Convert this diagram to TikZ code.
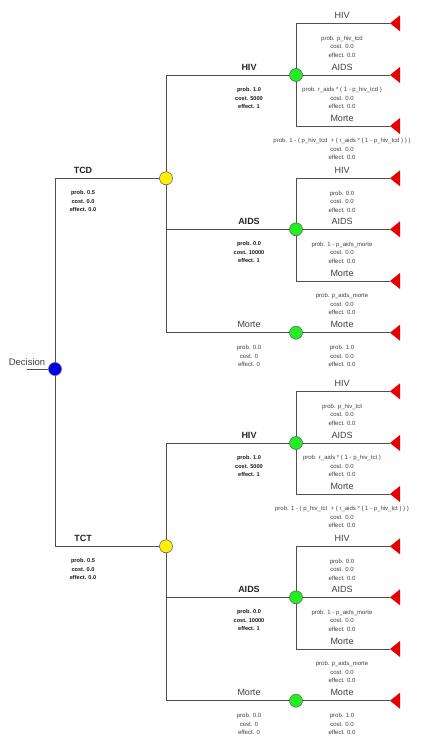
\documentclass[tikz,border=0pt]{standalone}
\usepackage{fontspec}
\setmainfont{Liberation Sans}
\usetikzlibrary{backgrounds}
\definecolor{ln}{HTML}{505050}
\definecolor{yel}{HTML}{FFF000}
\definecolor{grn}{HTML}{22EE22}
\definecolor{blu}{HTML}{0000EE}
\definecolor{trired}{HTML}{E60000}
\tikzset{
 chance/.style={circle,draw=black!60,line width=0.6pt,minimum size=13pt,inner sep=0pt},
 br/.style={draw=ln,line width=0.95pt},
 mlab/.style={anchor=base,inner sep=0pt,font=\fontsize{9}{11}\selectfont\bfseries,text=black!85},
 slab/.style={anchor=base,inner sep=0pt,font=\fontsize{9}{11}\selectfont,text=black!75},
 mstat/.style={anchor=north,inner sep=0pt,align=center,font=\fontsize{5.6}{8.5}\selectfont\bfseries,text=black!90},
 sstat/.style={anchor=north,inner sep=0pt,align=center,font=\fontsize{6}{8.5}\selectfont,text=black!75},
}
\newcommand{\halftree}[4]{%
\begin{scope}[yshift=-#4pt]
 \node[chance,fill=yel] (#1y) at (166,178.3) {};
 \node[chance,fill=grn] (#1gH) at (296,75) {};
 \node[chance,fill=grn] (#1gA) at (296,229.3) {};
 \node[chance,fill=grn] (#1gM) at (296,332.7) {};
 \coordinate (#1tHH) at (390,23.3);
 \coordinate (#1tHA) at (390,75);
 \coordinate (#1tHM) at (390,126);
 \coordinate (#1tAH) at (390,178.3);
 \coordinate (#1tAA) at (390,229.3);
 \coordinate (#1tAM) at (390,281);
 \coordinate (#1tMM) at (390,332.7);
 \foreach \t in {HH,HA,HM,AH,AA,AM,MM} \fill[trired] (#1t\t) -- ++(10,-8) -- ++(0,16) -- cycle;
 \begin{pgfonlayer}{background}
  \draw[br] (dec.center) |- (#1y);
  \draw[br] (#1y.center) |- (#1gH);
  \draw[br] (#1y.center) |- (#1gA);
  \draw[br] (#1y.center) |- (#1gM);
  \draw[br] (#1gH.center) |- (#1tHH);
  \draw[br] (#1gH) -- (#1tHA);
  \draw[br] (#1gH.center) |- (#1tHM);
  \draw[br] (#1gA.center) |- (#1tAH);
  \draw[br] (#1gA) -- (#1tAA);
  \draw[br] (#1gA.center) |- (#1tAM);
  \draw[br] (#1gM) -- (#1tMM);
 \end{pgfonlayer}
 \node[mlab] (#1l) at (83,173.3) {#3};
 \node[mstat] (#1s) at (83,190.7) {prob. 0.5\\cost. 0.0\\effect. 0.0};
 \node[mlab] (#1lH) at (249,70) {HIV};
 \node[mstat] (#1sH) at (249,87.4) {prob. 1.0\\cost. 5000\\effect. 1};
 \node[mlab] (#1lA) at (249,224.3) {AIDS};
 \node[mstat] (#1sA) at (249,241.7) {prob. 0.0\\cost. 10000\\effect. 1};
 \node[slab] (#1lM) at (249,327.7) {Morte};
 \node[sstat] (#1sM) at (249,345.1) {prob. 0.0\\cost. 0\\effect. 0};
 \node[slab] (#1lHH) at (342,18.3) {HIV};
 \node[sstat] (#1sHH) at (342,35.7) {prob. p\_hiv\_#2\\cost. 0.0\\effect. 0.0};
 \node[slab] (#1lHA) at (342,70) {AIDS};
 \node[sstat] (#1sHA) at (342,87.4) {prob. r\_aids * ( 1 - p\_hiv\_#2 )\\cost. 0.0\\effect. 0.0};
 \node[slab] (#1lHM) at (342,121) {Morte};
 \node[sstat] (#1sHM) at (342,138.4) {prob. 1 - ( p\_hiv\_#2 \ + ( r\_aids * ( 1 - p\_hiv\_#2 ) ) )\\cost. 0.0\\effect. 0.0};
 \node[slab] (#1lAH) at (342,173.3) {HIV};
 \node[sstat] (#1sAH) at (342,190.7) {prob. 0.0\\cost. 0.0\\effect. 0.0};
 \node[slab] (#1lAA) at (342,224.3) {AIDS};
 \node[sstat] (#1sAA) at (342,241.7) {prob. 1 - p\_aids\_morte\\cost. 0.0\\effect. 0.0};
 \node[slab] (#1lAM) at (342,276) {Morte};
 \node[sstat] (#1sAM) at (342,293.4) {prob. p\_aids\_morte\\cost. 0.0\\effect. 0.0};
 \node[slab] (#1lMM) at (342,327.7) {Morte};
 \node[sstat] (#1sMM) at (342,345.1) {prob. 1.0\\cost. 0.0\\effect. 0.0};
\end{scope}}
\begin{document}
\begin{tikzpicture}[x=1pt,y=-1pt]
 \useasboundingbox (0,0) rectangle (425,755);
 \node[chance,fill=blu] (dec) at (55,369) {};
 \coordinate (dst) at (27,369);
 \node[anchor=base,inner sep=0pt,font=\fontsize{9.5}{11}\selectfont,text=black!75] (declab) at (27,365) {Decision};
 \begin{pgfonlayer}{background}
  \fill[white] (0,0) rectangle (425,755);
  \draw[br] (dst) -- (dec);
 \end{pgfonlayer}
 \halftree{a}{tcd}{TCD}{0}
 \halftree{b}{tct}{TCT}{368}
\end{tikzpicture}
\end{document}
